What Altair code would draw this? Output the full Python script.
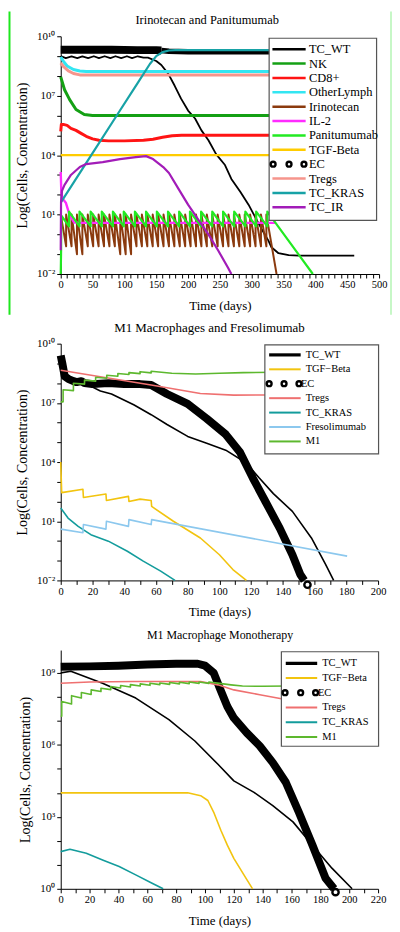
import math
import altair as alt
import pandas as pd

FONT = "Liberation Serif"

# ======================= Panel 1 : Irinotecan and Panitumumab =======================
# all values are log10(cells or concentration), days on x
p1_tcwt_day = [0, 8, 17, 26, 34, 43, 52, 60, 69, 78, 86, 95, 104, 112, 121, 130, 137, 150, 158, 169,
               179, 189, 200, 211, 221, 232, 244, 258, 268, 282, 295, 305, 315, 326, 331, 342, 358, 374, 461]
p1_tcwt_log = [9.0, 8.9, 8.98, 8.9, 8.98, 8.9, 8.99, 8.9, 8.99, 8.9, 8.99, 8.9, 8.99, 8.9, 8.99, 8.92, 8.92, 8.75, 8.55, 8.1,
               7.5, 6.85, 6.25, 5.85, 5.25, 4.75, 4.05, 3.5, 2.8, 2.15, 1.5, 0.9, 0.3, -0.3, -0.65, -0.95, -1.05, -1.07, -1.07]
p1_nk_day = [0, 6, 14, 24, 37, 50, 340]
p1_nk_log = [7.95, 7.3, 6.8, 6.3, 6.05, 6.0, 6.0]
p1_cd8_day = [0, 1, 4, 10, 16, 24, 32, 40, 50, 60, 75, 100, 130, 145, 160, 175, 190, 340]
p1_cd8_log = [5.2, 5.55, 5.55, 5.5, 5.35, 5.25, 5.1, 4.95, 4.82, 4.75, 4.72, 4.72, 4.75, 4.8, 4.9, 4.98, 5.0, 5.0]
p1_oth_day = [0, 5, 10, 20, 30, 40, 340]
p1_oth_log = [8.95, 8.7, 8.5, 8.32, 8.25, 8.22, 8.22]
p1_il2_day = [0, 1, 3, 8, 14, 21, 30, 337]
p1_il2_log = [3.15, 2.1, 1.8, 1.6, 0.97, 0.6, 0.58, 0.58]
p1_tgf_day = [0, 340]
p1_tgf_log = [4.0, 4.0]
# EC: dense circle markers -> thick band, narrower after ~day 158
p1_ec_a_day = [0, 40, 80, 120, 150, 158]
p1_ec_a_log = [9.32, 9.32, 9.32, 9.3, 9.3, 9.28]
p1_ec_b_day = [158, 170, 200, 250, 300, 340]
p1_ec_b_log = [9.28, 9.24, 9.22, 9.22, 9.22, 9.22]
p1_treg_day = [0, 5, 12, 20, 30, 340]
p1_treg_log = [8.65, 8.45, 8.25, 8.12, 8.05, 8.05]
p1_kras_day = [0, 50, 90, 120, 140, 150, 160, 170, 180, 340]
p1_kras_log = [1.6, 4.1, 6.1, 7.6, 8.6, 9.0, 9.2, 9.28, 9.3, 9.3]
p1_ir_day = [0, 0.5, 2, 6, 16, 30, 40, 66, 93, 118, 134, 145, 161, 170, 185, 200, 216, 232, 248, 263, 268]
p1_ir_log = [-0.8, 1.6, 2.2, 2.5, 3.0, 3.4, 3.55, 3.65, 3.8, 3.9, 3.95, 3.8, 3.4, 3.1, 2.3, 1.5, 0.75, 0.0, -0.85, -1.7, -2.0]
# Irinotecan dosing teeth: dose day, peak after dose, trough before next dose
p1_iri_dose = [0, 8.5, 17, 25.5, 34, 42.5, 51, 59.5, 68, 76.5, 85, 93.5, 102, 110.5, 119, 127.5, 136, 144.5, 153, 161.5,
               170, 178.5, 187, 195.5, 204, 212.5, 221, 229.5, 238, 246.5, 255, 263.5, 272, 280.5, 289, 297.5, 306, 314.5, 323]
p1_iri_peak = [1.0] * 39
p1_iri_trough = [-0.6, -0.6, -1.0, -1.0, -0.6, -0.6, -0.6, -0.6, -0.6, -0.6, -1.0, -1.0, -1.0, -0.6, -0.6, -0.6, -0.6, -0.6, -0.6, -0.6,
                 -0.6, -0.6, -0.6, -0.6, -0.6, -0.6, -0.6, -0.6, -0.6, -0.6, -0.6, -0.6, -0.6, -0.6, -0.6, -0.6, -0.6, -0.6, -2.0]
p1_iri_end = 339
# Panitumumab dosing teeth
p1_pan_dose = [1, 13, 29.5, 47, 64.5, 82, 99, 116.5, 134, 151, 168.5, 186, 203, 220.5, 238, 255, 272.5, 290, 307, 324.5]
p1_pan_peak = [0.95] + [1.15] * 19
p1_pan_trough = [0.4] * 19 + [-2.0]
p1_pan_end = 396

# ======================= Panel 2 : M1 Macrophages and Fresolimumab =======================
p2_tcwt_day = [0, 2, 5, 10, 15, 25, 32, 46, 57, 67, 80, 92, 104, 117, 125, 134, 146, 158, 167, 172]
p2_tcwt_log = [8.6, 8.4, 8.3, 8.15, 8.0, 7.6, 7.45, 6.9, 6.4, 5.9, 5.3, 4.95, 4.6, 3.95, 3.2, 2.4, 1.5, 0.15, -1.2, -2.0]
p2_tgf_day = [0, 0.6, 14, 14.3, 28.5, 28.8, 42.7, 43, 50, 57, 57.3, 71, 88, 100, 108.5, 117]
p2_tgf_log = [4.0, 2.45, 2.62, 2.2, 2.38, 2.05, 2.26, 2.0, 2.12, 2.05, 1.75, 1.0, 0.15, -0.7, -1.45, -2.0]
p2_ec_day = [0, 1, 2.5, 5, 8, 10, 13, 15, 20, 30, 40, 50, 57, 67, 80, 92, 104, 113, 121, 129, 138, 146, 151, 153.5]
p2_ec_log = [9.4, 9.0, 8.35, 8.2, 8.1, 8.05, 8.1, 8.0, 7.95, 8.0, 7.95, 7.95, 7.9, 7.45, 6.95, 6.2, 5.4, 4.5, 3.2, 2.0, 0.65, -0.7, -1.7, -2.0]
p2_ec_end_day = [155.5]
p2_ec_end_log = [-2.22]
p2_treg_day = [0, 25, 57, 88, 109, 135]
p2_treg_log = [8.65, 8.32, 7.9, 7.47, 7.39, 7.4]
p2_kras_day = [0, 4.6, 11, 19, 30, 42, 52, 63, 72]
p2_kras_log = [1.67, 1.16, 0.74, 0.32, -0.01, -0.52, -1.02, -1.53, -2.0]
p2_freso_day = [0, 14, 14.3, 28.5, 28.8, 42.7, 43, 57, 57.3, 180.5]
p2_freso_log = [0.6, 0.42, 0.83, 0.6, 1.0, 0.74, 1.08, 0.83, 1.08, -0.77]
p2_m1_day = [0, 1.5, 1.5, 8, 8, 15, 15, 22, 22, 29, 29, 36, 36, 43, 43, 50, 50, 57, 57, 70, 85, 100, 115, 135]
p2_m1_log = [7.05, 7.05, 7.66, 7.62, 7.99, 7.95, 8.15, 8.1, 8.3, 8.25, 8.4, 8.35, 8.49, 8.44, 8.53, 8.48, 8.58, 8.52, 8.6, 8.5, 8.46, 8.5, 8.53, 8.55]

# ======================= Panel 3 : M1 Macrophage Monotherapy =======================
p3_tcwt_day = [0, 7, 29, 52, 75, 93, 109, 120, 134, 147, 161, 174.5, 188, 202]
p3_tcwt_log = [9.0, 9.07, 8.57, 7.95, 7.05, 6.16, 5.19, 4.5, 4.02, 3.47, 2.79, 1.82, 0.86, 0.0]
p3_tgf_day = [0, 88, 97, 102, 106, 111, 115.5, 120, 127, 133]
p3_tgf_log = [4.0, 4.0, 3.88, 3.68, 3.2, 2.44, 1.82, 1.27, 0.58, 0.0]
p3_ec_day = [0, 20, 40, 60, 80, 95, 100, 106, 111, 115.5, 120, 129, 138, 147, 156, 165, 174.5, 183.6, 189.5]
p3_ec_log = [9.25, 9.27, 9.3, 9.35, 9.38, 9.38, 9.3, 9.0, 8.25, 7.6, 7.12, 6.5, 5.95, 5.26, 4.44, 3.2, 1.82, 0.44, 0.0]
p3_ec_end_day = [190.5]
p3_ec_end_log = [-0.14]
p3_treg_day = [0, 20, 50, 97, 109, 120, 138, 153, 160]
p3_treg_log = [8.57, 8.62, 8.64, 8.64, 8.5, 8.29, 8.09, 7.92, 7.88]
p3_kras_day = [0, 6.4, 17.7, 29, 40.5, 52, 63, 71]
p3_kras_log = [1.55, 1.65, 1.48, 1.2, 0.93, 0.58, 0.24, 0.0]
p3_m1_day = [0, 0.7, 0.7, 7.5, 7.5, 14.3, 14.3, 21.1, 21.1, 27.9, 27.9, 34.7, 34.7, 41.5, 41.5, 48.3, 48.3, 55.1, 55.1,
             61.9, 61.9, 68.7, 68.7, 75.5, 75.5, 82.3, 82.3, 89.1, 89.1, 95.9, 95.9, 102.7, 102.7, 110, 118, 126, 140, 158]
p3_m1_log = [7.19, 7.19, 7.81, 7.7, 8.05, 7.95, 8.18, 8.1, 8.29, 8.22, 8.36, 8.3, 8.43, 8.37, 8.47, 8.41, 8.51, 8.45, 8.54,
             8.48, 8.57, 8.51, 8.58, 8.52, 8.6, 8.54, 8.61, 8.55, 8.62, 8.56, 8.62, 8.56, 8.62, 8.56, 8.5, 8.45, 8.44, 8.45]

# ------------------------------------------------------------------------------------
SUP = {"-": "\u207b", "0": "\u2070", "1": "\u00b9", "2": "\u00b2", "3": "\u00b3", "4": "\u2074",
       "5": "\u2075", "6": "\u2076", "7": "\u2077", "8": "\u2078", "9": "\u2079"}


def sup10(k):
    return "10" + "".join(SUP[c] for c in str(k))


def teeth(doses, peaks, troughs, end_day):
    days, logs = [], []
    for i, d in enumerate(doses):
        nxt = doses[i + 1] if i + 1 < len(doses) else end_day
        days += [d, nxt]
        logs += [peaks[i], troughs[i]]
    return days, logs


def frame(days, logs):
    if len(days) != len(logs):
        raise ValueError(f"length mismatch {len(days)} vs {len(logs)}")
    return pd.DataFrame({"day": days, "val": [10.0 ** v for v in logs]})


ONE = pd.DataFrame({"k": [0]})


def text_at(s, x, y, size, align="left"):
    return alt.Chart(ONE).mark_text(text=s, align=align, baseline="middle", font=FONT, fontSize=size,
                                    color="black").encode(x=alt.value(x), y=alt.value(y))


def make_panel(title, tsize, tpos, series, ends, legend, xmax, xstep, xlab, ylo, yhi, ylabs, width, height, extra=()):
    xs = alt.Scale(domain=[0, xmax], nice=False, zero=False)
    ys = alt.Scale(type="log", domain=[10.0 ** ylo, 10.0 ** yhi], nice=False)
    ex = "round(log(datum.value)/LN10)"
    yexpr = " : ".join(f"{ex} == {k} ? '{sup10(k)}'" for k in ylabs) + " : ''"
    common = dict(labelFont=FONT, titleFont=FONT, labelColor="black", titleColor="black", domainColor="black",
                  tickColor="black", titleFontWeight="normal", domainWidth=1, tickWidth=1, grid=False,
                  labelOverlap=False, labelFlush=False, tickSize=4, labelPadding=2)
    xaxis = alt.Axis(values=list(range(0, xmax + 1, xstep)), labelExpr=f"datum.value % {xlab} == 0 ? datum.label : ''",
                     title="Time (days)", titleFontSize=13, labelFontSize=10.5, titlePadding=9, **common)
    yaxis = alt.Axis(values=[10.0 ** k for k in range(math.ceil(ylo), math.floor(yhi) + 1)], labelExpr=yexpr,
                     title="Log(Cells, Concentration)", titleFontSize=14, labelFontSize=11, titlePadding=7, **common)
    X = alt.X("day:Q", scale=xs, axis=xaxis)
    Y = alt.Y("val:Q", scale=ys, axis=yaxis)
    layers = list(extra)
    for (days, logs, color, w) in series:
        layers.append(alt.Chart(frame(days, logs)).mark_line(color=color, strokeWidth=w, strokeJoin="round",
                                                              strokeCap="butt").encode(x=X, y=Y))
    for (days, logs) in ends:
        layers.append(alt.Chart(frame(days, logs)).mark_point(shape="circle", filled=True, fill="white", stroke="black",
                                                               strokeWidth=2.4, size=40, opacity=1).encode(x=X, y=Y))
    # legend box (drawn above data, like the original)
    box, y0, dy, lx0, lx1, tx, fs, circ, ectx = legend["geom"]
    layers.append(alt.Chart(ONE).mark_rect(fill="white", stroke="#555555", strokeWidth=1.2).encode(
        x=alt.value(box[0]), x2=alt.value(box[2]), y=alt.value(box[1]), y2=alt.value(box[3])))
    for i, (name, color, w) in enumerate(legend["items"]):
        yy = y0 + i * dy
        if color is None:
            for cx in circ:
                layers.append(alt.Chart(ONE).mark_point(shape="circle", filled=False, color="black", strokeWidth=2.4,
                                                        size=24, opacity=1).encode(x=alt.value(cx), y=alt.value(yy)))
            layers.append(text_at(name, ectx, yy, fs))
        else:
            layers.append(alt.Chart(ONE).mark_rule(color=color, strokeWidth=w).encode(
                x=alt.value(lx0), x2=alt.value(lx1), y=alt.value(yy)))
            layers.append(text_at(name, tx, yy, fs))
    layers.append(text_at(title, tpos[0], tpos[1], tsize, align="center"))
    return alt.layer(*layers).properties(width=width, height=height)


# ---------------- build panel 1 ----------------
iri_d, iri_l = teeth(p1_iri_dose, p1_iri_peak, p1_iri_trough, p1_iri_end)
pan_d, pan_l = teeth(p1_pan_dose, p1_pan_peak, p1_pan_trough, p1_pan_end)
pan_d = [0, 0.6] + pan_d
pan_l = [-2.0, -0.8] + pan_l

deco = [
    alt.Chart(ONE).mark_rule(color="#1ee81e", strokeWidth=2).encode(x=alt.value(-51.5), y=alt.value(-25), y2=alt.value(280)),
    alt.Chart(ONE).mark_rule(color="#b4f4b4", strokeWidth=1.5).encode(x=alt.value(332), y=alt.value(-25), y2=alt.value(280)),
]

p1_series = [
    (p1_tcwt_day, p1_tcwt_log, "#000000", 1.8),
    (p1_nk_day, p1_nk_log, "#14a014", 3.0),
    (p1_cd8_day, p1_cd8_log, "#ff1414", 3.0),
    (p1_oth_day, p1_oth_log, "#33e6f2", 3.0),
    (iri_d, iri_l, "#8b3a0e", 2.0),
    (p1_il2_day, p1_il2_log, "#ff2bff", 2.4),
    (pan_d, pan_l, "#22ea22", 2.2),
    (p1_tgf_day, p1_tgf_log, "#ffcc00", 2.2),
    (p1_ec_a_day, p1_ec_a_log, "#000000", 8.0),
    (p1_ec_b_day, p1_ec_b_log, "#000000", 5.5),
    (p1_treg_day, p1_treg_log, "#f6958c", 3.0),
    (p1_kras_day, p1_kras_log, "#17a2a6", 2.2),
    (p1_ir_day, p1_ir_log, "#a21cb8", 2.2),
]
p1_legend = {
    "geom": ((209.5, 2, 317.5, 185), 13, 14.45, 212.8, 246.2, 249.5, 12.5, (213.5, 229.5, 244.5), 249.5),
    "items": [("TC_WT", "#000000", 2.6), ("NK", "#14a014", 2.6), ("CD8+", "#ff1414", 2.6),
              ("OtherLymph", "#33e6f2", 2.6), ("Irinotecan", "#8b3a0e", 2.6), ("IL-2", "#ff2bff", 2.6),
              ("Panitumumab", "#22ea22", 2.6), ("TGF-Beta", "#ffcc00", 2.6), ("EC", None, 0),
              ("Tregs", "#f6958c", 2.6), ("TC_KRAS", "#17a2a6", 2.6), ("TC_IR", "#a21cb8", 2.6)],
}
panel1 = make_panel("Irinotecan and Panitumumab", 12.5, (147.2, -16.3), p1_series, [], p1_legend, 500, 10, 50, -2, 10,
                    [-2, 1, 4, 7, 10], 320, 239, extra=deco)

# ---------------- build panel 2 ----------------
p2_series = [
    (p2_tcwt_day, p2_tcwt_log, "#000000", 1.6),
    (p2_tgf_day, p2_tgf_log, "#f2c40f", 1.6),
    (p2_ec_day, p2_ec_log, "#000000", 8.0),
    (p2_treg_day, p2_treg_log, "#ef7070", 1.6),
    (p2_kras_day, p2_kras_log, "#139c9c", 1.6),
    (p2_freso_day, p2_freso_log, "#8cc8ee", 1.6),
    (p2_m1_day, p2_m1_log, "#5db82e", 1.6),
]
p2_legend = {
    "geom": ((205.2, 1.3, 319.5, 110.7), 11.3, 14.5, 209.5, 241.2, 246.2, 10.5, (209.5, 224.5, 239.5), 241.5),
    "items": [("TC_WT", "#000000", 3.2), ("TGF\u2212Beta", "#f2c40f", 2), ("EC", None, 0), ("Tregs", "#ef7070", 2),
              ("TC_KRAS", "#139c9c", 2), ("Fresolimumab", "#8cc8ee", 2), ("M1", "#5db82e", 2)],
}
panel2 = make_panel("M1 Macrophages and Fresolimumab", 13, (149.5, -15.3), p2_series, [(p2_ec_end_day, p2_ec_end_log)],
                    p2_legend, 200, 10, 20, -2, 10, [-2, 1, 4, 7, 10], 319, 238)

# ---------------- build panel 3 ----------------
p3_series = [
    (p3_tcwt_day, p3_tcwt_log, "#000000", 1.6),
    (p3_tgf_day, p3_tgf_log, "#f2c40f", 1.6),
    (p3_ec_day, p3_ec_log, "#000000", 8.0),
    (p3_treg_day, p3_treg_log, "#ef7070", 1.6),
    (p3_kras_day, p3_kras_log, "#139c9c", 1.6),
    (p3_m1_day, p3_m1_log, "#5db82e", 1.6),
]
p3_legend = {
    "geom": ((221.8, 1.7, 319.5, 96.7), 13.3, 14.8, 226.2, 257.8, 262.8, 10.5, (225.5, 241.2, 256.2), 258.5),
    "items": [("TC_WT", "#000000", 3.2), ("TGF\u2212Beta", "#f2c40f", 2), ("EC", None, 0), ("Tregs", "#ef7070", 2),
              ("TC_KRAS", "#139c9c", 2), ("M1", "#5db82e", 2)],
}
panel3 = make_panel("M1 Macrophage Monotherapy", 12, (160.2, -15), p3_series, [(p3_ec_end_day, p3_ec_end_log)],
                    p3_legend, 220, 10, 20, 0, 9.95, [0, 3, 6, 9], 319, 240)

chart = alt.vconcat(panel1, panel2, panel3, spacing=70, bounds="flush").properties(
    padding={"left": 0, "top": 0, "right": 0, "bottom": 0}
).configure_view(stroke=None)

chart.save("out.html", embed_options={"renderer": "svg", "actions": False})
